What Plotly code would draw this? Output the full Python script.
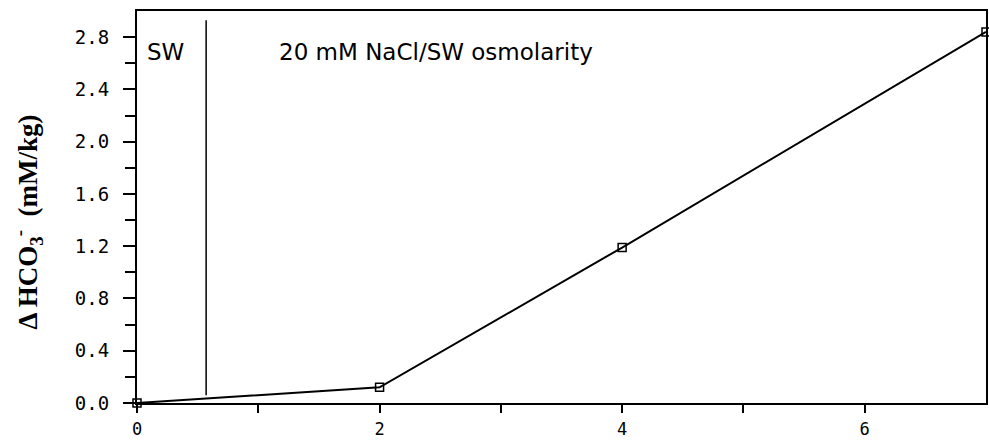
import plotly.graph_objects as go

time_h = [0, 2, 4, 7]
delta_hco3 = [0.0, 0.12, 1.19, 2.84]
sw_change_x = 0.57
x_ticks = [0, 2, 4, 6]
y_ticks = [0.0, 0.4, 0.8, 1.2, 1.6, 2.0, 2.4, 2.8]
y_tick_labels = ["0.0", "0.4", "0.8", "1.2", "1.6", "2.0", "2.4", "2.8"]

fig = go.Figure()
fig.add_trace(go.Scatter(
    x=time_h, y=delta_hco3, mode="lines+markers",
    line=dict(color="black", width=2),
    marker=dict(symbol="square-open", size=8, color="black", line=dict(width=1.5, color="black")),
    showlegend=False, cliponaxis=False,
))

fig.add_shape(type="line", x0=sw_change_x, x1=sw_change_x, y0=0.06, y1=2.93,
              xref="x", yref="y", line=dict(color="black", width=1.5))

ann_font = dict(family="DejaVu Sans", size=23, color="black")
fig.add_annotation(x=0.066, y=2.69, xref="x", yref="y", text="SW", showarrow=False,
                   xanchor="left", yanchor="middle", font=ann_font)
fig.add_annotation(x=1.154, y=2.69, xref="x", yref="y", text="20 mM NaCl/SW osmolarity",
                   showarrow=False, xanchor="left", yanchor="middle", font=ann_font)

# y-axis title as rotated annotation
fig.add_annotation(x=-0.129, y=0.462, xref="paper", yref="paper",
                   text="<b>Δ HCO<sub>3</sub><sup>-</sup>  (mM/kg)</b>", textangle=-90,
                   showarrow=False, xanchor="center", yanchor="middle",
                   font=dict(family="Liberation Serif, Times New Roman", size=27, color="black"))

fig.update_layout(
    width=989, height=442,
    margin=dict(l=137, r=3, t=11, b=39),
    plot_bgcolor="white", paper_bgcolor="white",
    font=dict(family="DejaVu Sans Mono", size=18, color="black"),
)
fig.update_xaxes(
    range=[0, 7], tickvals=x_ticks, ticktext=[str(v) for v in x_ticks],
    showgrid=False, zeroline=False, showline=True, linecolor="black", linewidth=2,
    mirror=True, ticks="outside", ticklen=8, tickwidth=1.5, tickcolor="black",
    minor=dict(tickvals=[1, 3, 5], ticks="outside", ticklen=8, tickwidth=1.5, tickcolor="black"),
    tickfont=dict(family="DejaVu Sans Mono", size=17),
    ticklabelstandoff=2, automargin=False,
)
fig.update_yaxes(
    range=[0, 3.0], tickvals=y_ticks, ticktext=y_tick_labels,
    showgrid=False, zeroline=False, showline=True, linecolor="black", linewidth=2,
    mirror=True, ticks="outside", ticklen=12, tickwidth=1.5, tickcolor="black",
    minor=dict(tickvals=[0.2, 0.6, 1.0, 1.4, 1.8, 2.2, 2.6], ticks="outside", ticklen=10,
               tickwidth=1.5, tickcolor="black"),
    tickfont=dict(family="DejaVu Sans Mono", size=19),
    ticklabelstandoff=10, automargin=False,
)

fig.write_html("out.html")
